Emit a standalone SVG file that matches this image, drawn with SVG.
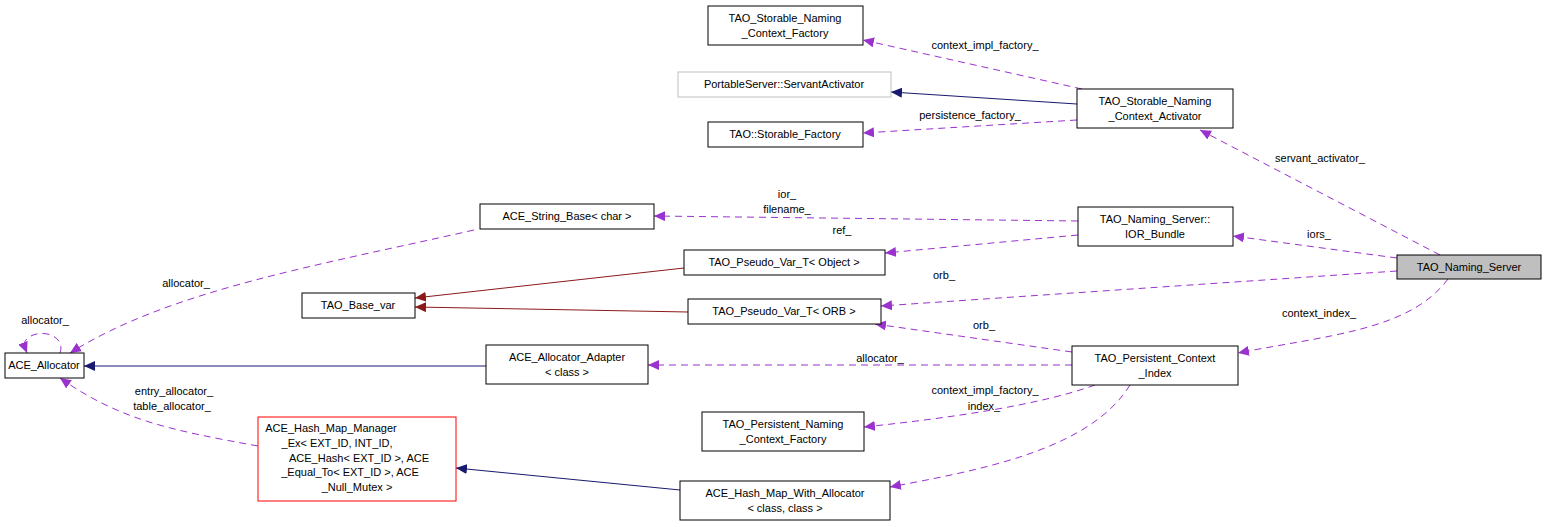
<svg xmlns="http://www.w3.org/2000/svg" width="1547" height="527" viewBox="0 0 1547 527">
<style>
text{font-family:"Liberation Sans",Arial,sans-serif;font-size:11px;fill:#000;text-anchor:middle}
.n rect{fill:#fff;stroke:#000;stroke-width:1}
.d{fill:none;stroke:#9a32cd;stroke-width:1;stroke-dasharray:7,5}
.b{fill:none;stroke:#191970;stroke-width:1}
.r{fill:none;stroke:#8b1a1a;stroke-width:1}
</style>
<defs>
<marker id="ap" markerWidth="12" markerHeight="10" refX="11" refY="5" orient="auto" markerUnits="userSpaceOnUse"><path d="M0,0 L11,5 L0,10 Z" fill="#9a32cd"/></marker>
<marker id="ab" markerWidth="12" markerHeight="10" refX="11" refY="5" orient="auto" markerUnits="userSpaceOnUse"><path d="M0,0 L11,5 L0,10 Z" fill="#191970"/></marker>
<marker id="ar" markerWidth="12" markerHeight="10" refX="11" refY="5" orient="auto" markerUnits="userSpaceOnUse"><path d="M0,0 L11,5 L0,10 Z" fill="#8b1a1a"/></marker>
</defs>
<g id="edges">
<path class="d" marker-end="url(#ap)" d="M1082,89 L863,40"/>
<text x="985" y="49">context_impl_factory_</text>
<path class="b" marker-end="url(#ab)" d="M1077,104 L891,92"/>
<path class="d" marker-end="url(#ap)" d="M1077,120 L863,133"/>
<text x="970" y="119">persistence_factory_</text>
<path class="d" marker-end="url(#ap)" d="M1440,255 L1200,130"/>
<text x="1320" y="162">servant_activator_</text>
<path class="d" marker-end="url(#ap)" d="M1078,221 L654,216"/>
<text x="787" y="198">ior_</text>
<text x="787" y="213">filename_</text>
<path class="d" marker-end="url(#ap)" d="M1078,235 L885,253"/>
<text x="842" y="234">ref_</text>
<path class="d" marker-end="url(#ap)" d="M1397,258 L1233,236"/>
<text x="1319" y="238">iors_</text>
<path class="d" marker-end="url(#ap)" d="M1397,271 L881,306"/>
<text x="944" y="279">orb_</text>
<path class="d" marker-end="url(#ap)" d="M1448,279 C1410,330 1330,335 1238,353"/>
<text x="1319" y="317">context_index_</text>
<path class="r" marker-end="url(#ar)" d="M684,268 L415,298"/>
<path class="r" marker-end="url(#ar)" d="M688,312 L415,307"/>
<path class="d" marker-end="url(#ap)" d="M1072,352 L875,324"/>
<text x="984" y="329">orb_</text>
<path class="d" marker-end="url(#ap)" d="M1072,365 L648,365"/>
<text x="880" y="362">allocator_</text>
<path class="d" marker-end="url(#ap)" d="M1095,385 C1040,405 950,418 864,427"/>
<text x="985" y="394">context_impl_factory_</text>
<path class="d" marker-end="url(#ap)" d="M1130,385 C1090,450 980,470 890,487"/>
<text x="984" y="410">index_</text>
<path class="b" marker-end="url(#ab)" d="M680,490 L456,468"/>
<path class="b" marker-end="url(#ab)" d="M486,366 L84,366"/>
<path class="d" marker-end="url(#ap)" d="M474,230 C320,265 170,290 70,353"/>
<text x="186" y="287">allocator_</text>
<path class="d" marker-end="url(#ap)" d="M60,353 C66,335 40,328 28,338 C22,342 25,348 27,353"/>
<text x="45" y="324">allocator_</text>
<path class="d" marker-end="url(#ap)" d="M258,446 C170,430 120,420 60,378"/>
<text x="174" y="395">entry_allocator_</text>
<text x="172" y="410">table_allocator_</text>
</g>
<g id="n1" class="n"><rect x="708" y="6" width="155" height="39"/><text x="785" y="22">TAO_Storable_Naming</text><text x="785" y="37">_Context_Factory</text></g>
<g id="n2" class="n"><rect x="678" y="72" width="213" height="25" style="stroke:#bfbfbf"/><text x="784" y="88">PortableServer::ServantActivator</text></g>
<g id="n3" class="n"><rect x="708" y="122" width="155" height="25"/><text x="785" y="138">TAO::Storable_Factory</text></g>
<g id="n4" class="n"><rect x="1077" y="89" width="156" height="39"/><text x="1155" y="105">TAO_Storable_Naming</text><text x="1155" y="120">_Context_Activator</text></g>
<g id="n5" class="n"><rect x="1397" y="255" width="144" height="24" style="fill:#bfbfbf"/><text x="1469" y="271">TAO_Naming_Server</text></g>
<g id="n6" class="n"><rect x="480" y="204" width="174" height="25"/><text x="567" y="220">ACE_String_Base&lt; char &gt;</text></g>
<g id="n7" class="n"><rect x="1078" y="207" width="155" height="39"/><text x="1155" y="223">TAO_Naming_Server::</text><text x="1155" y="238">IOR_Bundle</text></g>
<g id="n8" class="n"><rect x="684" y="250" width="201" height="25"/><text x="784" y="266">TAO_Pseudo_Var_T&lt; Object &gt;</text></g>
<g id="n9" class="n"><rect x="302" y="293" width="113" height="25"/><text x="358" y="309">TAO_Base_var</text></g>
<g id="n10" class="n"><rect x="688" y="299" width="193" height="25"/><text x="784" y="315">TAO_Pseudo_Var_T&lt; ORB &gt;</text></g>
<g id="n11" class="n"><rect x="5" y="353" width="79" height="25"/><text x="44" y="369">ACE_Allocator</text></g>
<g id="n12" class="n"><rect x="486" y="345" width="162" height="39"/><text x="567" y="361">ACE_Allocator_Adapter</text><text x="567" y="376">&lt; class &gt;</text></g>
<g id="n13" class="n"><rect x="1072" y="346" width="166" height="39"/><text x="1155" y="362">TAO_Persistent_Context</text><text x="1155" y="377">_Index</text></g>
<g id="n14" class="n"><rect x="702" y="412" width="162" height="39"/><text x="783" y="428">TAO_Persistent_Naming</text><text x="783" y="443">_Context_Factory</text></g>
<g id="n15" class="n"><rect x="258" y="417" width="198" height="84" style="stroke:#ff0000"/><text x="331" y="432">ACE_Hash_Map_Manager</text><text x="337" y="447">_Ex&lt; EXT_ID, INT_ID,</text><text x="359" y="462">ACE_Hash&lt; EXT_ID &gt;, ACE</text><text x="350" y="476">_Equal_To&lt; EXT_ID &gt;, ACE</text><text x="357" y="491">_Null_Mutex &gt;</text></g>
<g id="n16" class="n"><rect x="680" y="481" width="210" height="39"/><text x="785" y="497">ACE_Hash_Map_With_Allocator</text><text x="785" y="512">&lt; class, class &gt;</text></g>
</svg>
